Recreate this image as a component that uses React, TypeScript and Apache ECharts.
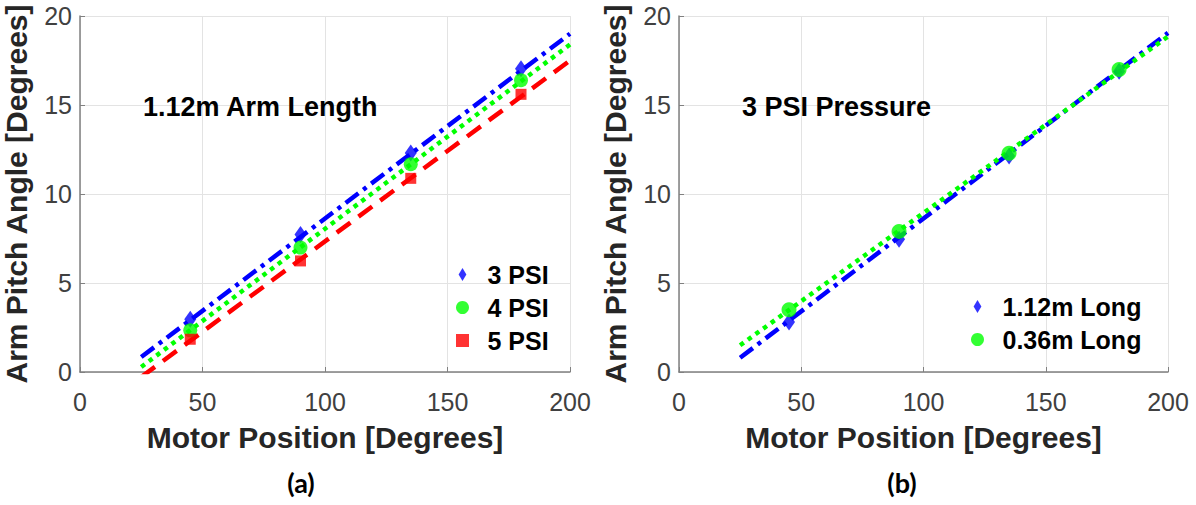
import React, { useEffect, useRef } from "react";
import * as echarts from "echarts";

// Motor positions (degrees)
const motorPositions = [45, 90, 135, 180];

// Panel (a): 1.12m arm length, different pressures
const psi3 = [2.96, 7.72, 12.3, 17.04];
const psi4 = [2.34, 6.99, 11.67, 16.39];
const psi5 = [1.84, 6.24, 10.88, 15.6];
const fitPsi3: number[][] = [[25, 0.84], [200, 19.0]];
const fitPsi4: number[][] = [[25, 0.28], [200, 18.4]];
const fitPsi5: number[][] = [[25, -0.28], [200, 17.5]];

// Panel (b): 3 PSI pressure, different arm lengths
const long112 = [2.81, 7.46, 12.13, 16.9];
const long036 = [3.5, 7.9, 12.29, 17.0];
const fitLong112: number[][] = [[25, 0.8], [200, 19.05]];
const fitLong036: number[][] = [[25, 1.5], [200, 18.85]];

const xTicks = { min: 0, max: 200, interval: 50 };
const yTicks = { min: 0, max: 20, interval: 5 };

const FONT = "Liberation Sans, Arial, sans-serif";
const BLUE = "#0000ff";
const GREEN = "#00ff00";
const RED = "#ff0000";

const pts = (ys: number[]) => motorPositions.map((x, i) => [x, ys[i]]);

function xAxisCfg(gridIndex: number) {
  return {
    type: "value",
    gridIndex,
    min: xTicks.min,
    max: xTicks.max,
    interval: xTicks.interval,
    axisLine: { show: true, onZero: false, lineStyle: { color: "#808080", width: 1.5 } },
    axisTick: { show: true, inside: true, length: 5, lineStyle: { color: "#808080" } },
    axisLabel: { fontSize: 25, color: "#404040", margin: 17, fontFamily: FONT },
    splitLine: { show: true, lineStyle: { color: "#e3e3e3", width: 1 } },
    name: "Motor Position [Degrees]",
    nameLocation: "middle",
    nameGap: 50,
    nameTextStyle: { fontSize: 30, fontWeight: "bold", color: "#262626", fontFamily: FONT },
  };
}

function yAxisCfg(gridIndex: number) {
  return {
    type: "value",
    gridIndex,
    min: yTicks.min,
    max: yTicks.max,
    interval: yTicks.interval,
    axisLine: { show: true, onZero: false, lineStyle: { color: "#808080", width: 1.5 } },
    axisTick: { show: true, inside: true, length: 5, lineStyle: { color: "#808080" } },
    axisLabel: { fontSize: 25, color: "#404040", margin: 8, fontFamily: FONT },
    splitLine: { show: true, lineStyle: { color: "#e3e3e3", width: 1 } },
    name: "Arm Pitch Angle [Degrees]",
    nameLocation: "middle",
    nameGap: 49,
    nameTextStyle: { fontSize: 30, fontWeight: "bold", color: "#262626", fontFamily: FONT },
  };
}

const DIAMOND = "path://M5,0L10,8L5,16L0,8Z";
const DIAMOND_ICON = "path://M3,0L6,5L3,10L0,5Z";
const SQUARE_ICON = "path://M0,0L10,0L10,10L0,10Z";

function fitLine(name: string, idx: number, data: number[][], color: string, type: any) {
  return {
    name,
    type: "line",
    xAxisIndex: idx,
    yAxisIndex: idx,
    data,
    symbol: "none",
    clip: true,
    z: 2,
    lineStyle: { color, width: 4.5, type },
  };
}

function scatter(name: string, idx: number, ys: number[], color: string, symbol: string, size: any) {
  return {
    name,
    type: "scatter",
    xAxisIndex: idx,
    yAxisIndex: idx,
    data: pts(ys),
    symbol,
    symbolSize: size,
    z: 3,
    itemStyle: { color },
  };
}

const DASHDOT = [16, 6, 4, 6];
const DOTTED = [4.5, 5];
const DASHED = [17, 10];

export default function App() {
  const ref = useRef<HTMLDivElement>(null);
  useEffect(() => {
    if (!ref.current) return;
    const chart = echarts.init(ref.current, null, { renderer: "svg" });
    const legendText = { fontSize: 25, fontWeight: "bold", color: "#000", fontFamily: FONT };
    chart.setOption({
      animation: false,
      backgroundColor: "#ffffff",
      grid: [
        { left: 80, top: 16, width: 490, height: 356 },
        { left: 679, top: 16, width: 489, height: 356 },
      ],
      xAxis: [xAxisCfg(0), xAxisCfg(1)],
      yAxis: [yAxisCfg(0), yAxisCfg(1)],
      legend: [
        {
          orient: "vertical",
          left: 451,
          top: 257,
          itemWidth: 40,
          itemHeight: 13,
          itemGap: 8,
          textStyle: legendText,
          data: [
            { name: "3 PSI", icon: DIAMOND_ICON },
            { name: "4 PSI", icon: "circle" },
            { name: "5 PSI", icon: SQUARE_ICON },
          ],
        },
        {
          orient: "vertical",
          left: 966,
          top: 289,
          itemWidth: 40,
          itemHeight: 13,
          itemGap: 8,
          textStyle: legendText,
          data: [
            { name: "1.12m Long", icon: DIAMOND_ICON },
            { name: "0.36m Long", icon: "circle" },
          ],
        },
      ],
      graphic: [
        {
          type: "text",
          left: 143,
          top: 93,
          z: 100,
          style: { text: "1.12m Arm Length", font: `bold 27px ${FONT}`, fill: "#000" },
        },
        {
          type: "text",
          left: 742,
          top: 93,
          z: 100,
          style: { text: "3 PSI Pressure", font: `bold 27px ${FONT}`, fill: "#000" },
        },
        {
          type: "text",
          x: 301,
          y: 482,
          z: 100,
          style: { text: "(a)", font: "bold 27px Lato, sans-serif", fill: "#000", textAlign: "center", textVerticalAlign: "middle" },
        },
        {
          type: "text",
          x: 902,
          y: 482,
          z: 100,
          style: { text: "(b)", font: "bold 27px Lato, sans-serif", fill: "#000", textAlign: "center", textVerticalAlign: "middle" },
        },
      ],
      series: [
        fitLine("fit 3 PSI", 0, fitPsi3, BLUE, DASHDOT),
        fitLine("fit 4 PSI", 0, fitPsi4, GREEN, DOTTED),
        fitLine("fit 5 PSI", 0, fitPsi5, RED, DASHED),
        scatter("3 PSI", 0, psi3, BLUE, DIAMOND, [12, 17]),
        scatter("4 PSI", 0, psi4, GREEN, "circle", 14),
        scatter("5 PSI", 0, psi5, RED, "rect", 11),
        fitLine("fit 1.12m", 1, fitLong112, BLUE, DASHDOT),
        fitLine("fit 0.36m", 1, fitLong036, GREEN, DOTTED),
        scatter("1.12m Long", 1, long112, BLUE, DIAMOND, [12, 17]),
        scatter("0.36m Long", 1, long036, GREEN, "circle", 15),
      ],
    });
    return () => chart.dispose();
  }, []);
  return (
    <div
      ref={ref}
      style={{ position: "absolute", left: 0, top: 0, width: 1196, height: 505, background: "#fff" }}
    />
  );
}
